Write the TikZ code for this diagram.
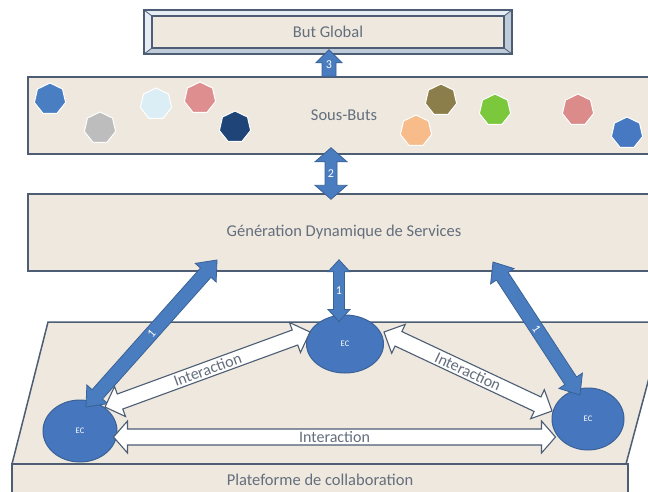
\documentclass[tikz,border=0pt]{standalone}
\usepackage{fontspec}
\setmainfont{Carlito}
\usetikzlibrary{calc,shapes.geometric}
\definecolor{boxfill}{HTML}{EEE8DF}
\definecolor{boxline}{HTML}{4C5D74}
\definecolor{txt}{HTML}{646E7C}
\definecolor{arrblue}{HTML}{4A7CC0}
\definecolor{arrline}{HTML}{3A6296}
\definecolor{ecblue}{HTML}{4676BE}
\definecolor{bevlight}{HTML}{E6EDF5}
\definecolor{bevdark}{HTML}{BFCBD8}
\definecolor{hA}{HTML}{4A7EC2}\definecolor{hB}{HTML}{BDBDBD}\definecolor{hC}{HTML}{DCEEF5}
\definecolor{hD}{HTML}{DE8E8E}\definecolor{hE}{HTML}{1E4478}\definecolor{hF}{HTML}{8C7E4A}
\definecolor{hG}{HTML}{F8BC8A}\definecolor{hH}{HTML}{7CC83C}\definecolor{hI}{HTML}{DC8B8B}
\definecolor{hJ}{HTML}{4679C2}
\newcommand\dblarrow[6]{%
  \coordinate (tmpA) at ($(#2)!#6!(#3)$);
  \coordinate (tmpB) at ($(#3)!#6!(#2)$);
  \path[#1] (#2) -- ($(tmpA)!#5!90:(#3)$) -- ($(tmpA)!#4!90:(#3)$)
    -- ($(tmpB)!#4!-90:(#2)$) -- ($(tmpB)!#5!-90:(#2)$) -- (#3)
    -- ($(tmpB)!#5!90:(#2)$) -- ($(tmpB)!#4!90:(#2)$)
    -- ($(tmpA)!#4!-90:(#3)$) -- ($(tmpA)!#5!-90:(#3)$) -- cycle;}
\newcommand\sglarrow[6]{%
  \coordinate (tmpB) at ($(#3)!#6!(#2)$);
  \path[#1] ($(#2)!#4!90:(#3)$)
    -- ($(tmpB)!#4!-90:(#2)$) -- ($(tmpB)!#5!-90:(#2)$) -- (#3)
    -- ($(tmpB)!#5!90:(#2)$) -- ($(tmpB)!#4!90:(#2)$)
    -- ($(#2)!#4!-90:(#3)$) -- cycle;}
\begin{document}
\begin{tikzpicture}[x=1pt,y=-1pt,
  box/.style={draw=boxline, line width=1.5pt, fill=boxfill, inner sep=0pt, text=txt, font=\fontsize{16.5}{18}\selectfont},
  hept/.style={regular polygon, regular polygon sides=7, minimum size=32pt, inner sep=0pt, draw=white, line width=1pt},
  ec/.style={ellipse, draw=arrline, line width=1pt, fill=ecblue, text=white, inner sep=0pt, font=\fontsize{8.5}{8.5}\selectfont},
  bluearrow/.style={fill=arrblue, draw=arrline, line width=0.8pt, line join=miter},
  whitearrow/.style={fill=white, draw=boxline, line width=1.1pt, line join=miter},
  num/.style={text=white, font=\fontsize{12}{12}\selectfont, inner sep=0pt},
  inter/.style={text=txt, font=\fontsize{16}{16}\selectfont, inner sep=0pt},
  platform/.style={draw=boxline, line width=1.5pt, fill=boxfill}
]
\useasboundingbox (0,0) rectangle (648,491);
\clip (0,0) rectangle (648,491);
\fill[white] (0,0) rectangle (648,491);

% But Global (bevelled frame)
\fill[bevlight] (144,10) rectangle (512,54);
\fill[bevdark] (144,54) -- (152,48) -- (504,48) -- (504,16) -- (512,10) -- (512,54) -- cycle;
\node[box, minimum width=352pt, minimum height=32pt] (goal) at (328,32) {But Global};
\draw[boxline, line width=1.5pt] (144,10) rectangle (512,54);
\draw[boxline, line width=0.8pt] (144,10) -- (152,16) (512,10) -- (504,16) (144,54) -- (152,48) (512,54) -- (504,48);

% Sous-Buts and Génération
\node[box, minimum width=632pt, minimum height=77pt] (sous) at (344,115.5) {Sous-Buts};
\node[box, minimum width=632pt, minimum height=77pt] (gen) at (344,232.5) {Génération Dynamique de Services};

% heptagons
\node[hept, fill=hA] (h1) at (50,99) {};
\node[hept, fill=hB] (h2) at (100,128) {};
\node[hept, fill=hC] (h3) at (156,104) {};
\node[hept, fill=hD] (h4) at (200,98) {};
\node[hept, fill=hE] (h5) at (235,127) {};
\node[hept, fill=hF] (h6) at (441,100) {};
\node[hept, fill=hG] (h7) at (416,131) {};
\node[hept, fill=hH] (h8) at (495,110) {};
\node[hept, fill=hI] (h9) at (578,110) {};
\node[hept, fill=hJ] (h10) at (627,133) {};

% platform
\path[platform] (48,322) -- (664,322) -- (626,464) -- (12,464) -- cycle;
\path[platform] (12,464) rectangle (628,500);
\node[inter, font=\fontsize{16.5}{18}\selectfont] (plat) at (320,480) {Plateforme de collaboration};

% EC nodes
\node[ec, minimum width=74pt, minimum height=62pt] (ec1) at (80,431) {EC};
\node[ec, minimum width=77pt, minimum height=58pt] (ec2) at (345,344) {EC};
\node[ec, minimum width=72pt, minimum height=62pt] (ec3) at (588,419) {EC};

% connector end points
\coordinate (a3s) at ($(sous.north)+(-15,0)$);
\coordinate (a3e) at ($(goal.south)+(1,1)$);
\coordinate (a2s) at ($(sous.south)+(-13,-7)$);
\coordinate (a2e) at ($(gen.north)+(-13,6)$);
\coordinate (a1s) at ($(gen.south)+(-5,-12)$);
\coordinate (a1e) at ($(ec2.north)+(-6,7)$);
\coordinate (l1s) at (217,260);
\coordinate (l1e) at (86,407);
\coordinate (r1s) at (493,262);
\coordinate (r1e) at (580,395);
\coordinate (ib1) at ($(ec1.east)+(-4,6)$);
\coordinate (ib2) at ($(ec3.west)+(4,18)$);
\coordinate (il1) at (105,407);
\coordinate (il2) at (310,332);
\coordinate (ir1) at (384,332);
\coordinate (ir2) at (552,411);

% blue arrows
\sglarrow{bluearrow}{a3s}{a3e}{7pt}{13pt}{13pt}
\dblarrow{bluearrow}{a2s}{a2e}{6pt}{16pt}{14pt}
\dblarrow{bluearrow}{a1s}{a1e}{5.5pt}{11pt}{12pt}
\dblarrow{bluearrow}{l1s}{l1e}{7pt}{14pt}{17pt}
\dblarrow{bluearrow}{r1s}{r1e}{7pt}{14pt}{17pt}
\node[num] at ($(a3s)!0.45!(a3e)$) {3};
\node[num] at ($(a2s)!0.5!(a2e)$) {2};
\node[num] at ($(a1s)!0.5!(a1e)$) {1};
\path (l1s) -- (l1e) node[num, midway, sloped] {1};
\path (r1s) -- (r1e) node[num, midway, sloped] {1};

% interaction arrows
\dblarrow{whitearrow}{ib1}{ib2}{8pt}{16pt}{14pt}
\dblarrow{whitearrow}{il1}{il2}{8pt}{16pt}{16pt}
\dblarrow{whitearrow}{ir1}{ir2}{8pt}{16pt}{16pt}
\path (ib1) -- (ib2) node[inter, midway] {Interaction};
\path (il1) -- (il2) node[inter, midway, sloped] {Interaction};
\path (ir1) -- (ir2) node[inter, midway, sloped] {Interaction};
\end{tikzpicture}
\end{document}
